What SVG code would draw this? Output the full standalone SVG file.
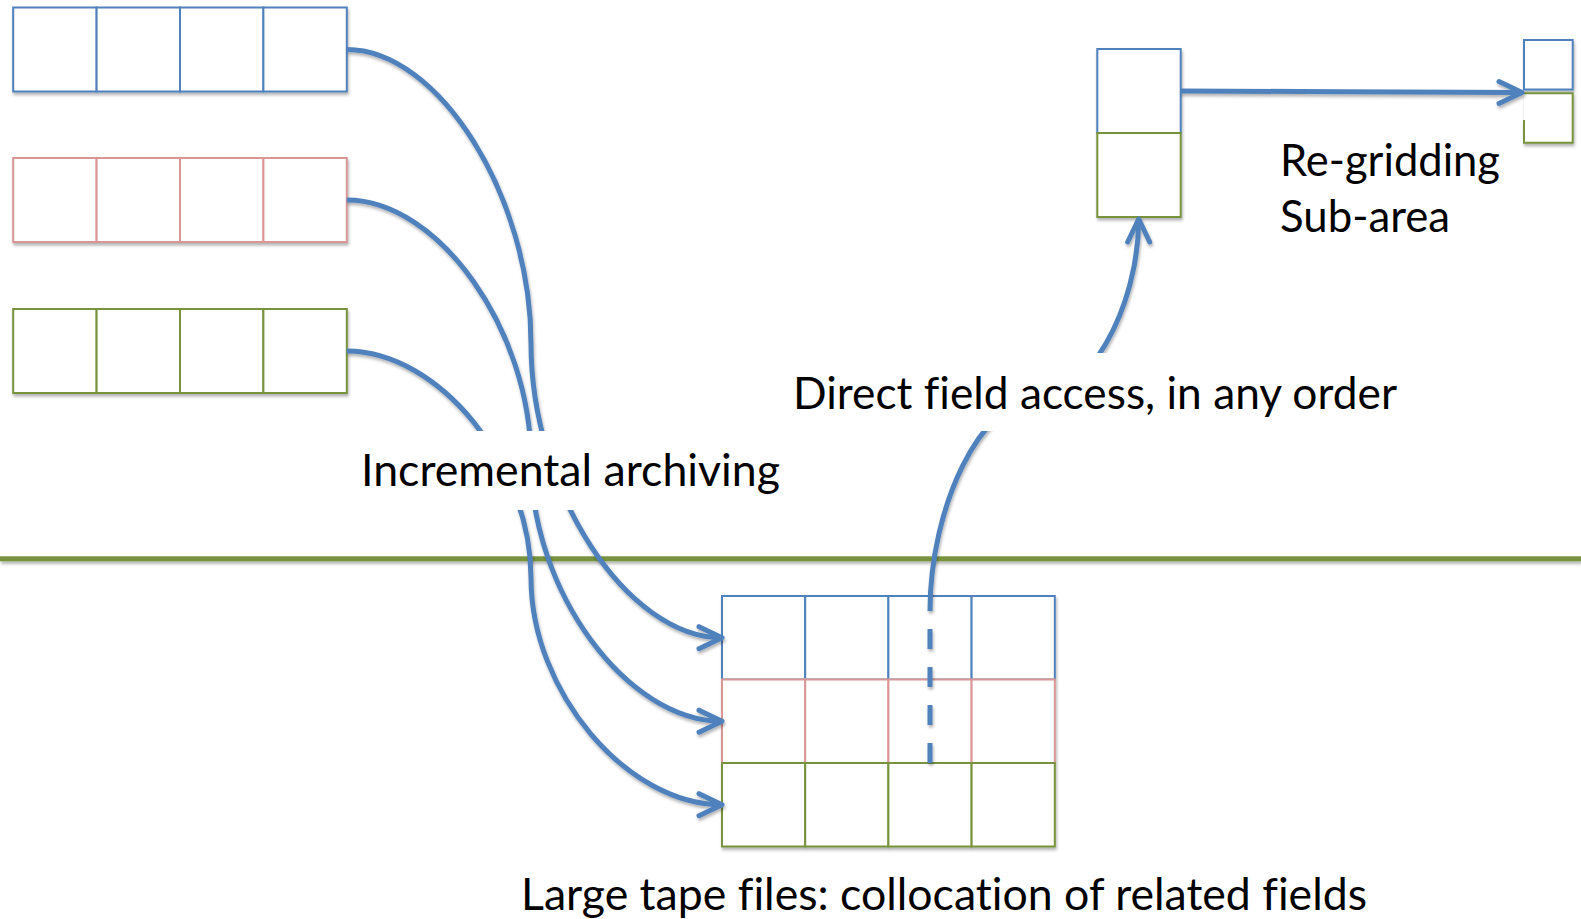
<svg xmlns="http://www.w3.org/2000/svg" width="1581" height="919" viewBox="0 0 1581 919">
  <defs>
    <filter id="sh" filterUnits="userSpaceOnUse" x="0" y="0" width="1581" height="919">
      <feDropShadow dx="1" dy="2.5" stdDeviation="1.5" flood-color="#000" flood-opacity="0.3"/>
    </filter>
    <marker id="arr" markerUnits="userSpaceOnUse" orient="auto" markerWidth="40" markerHeight="40" refX="0" refY="0" viewBox="-30 -20 40 40" overflow="visible">
      <path d="M-23,-11 L0,0 L-23,11" fill="none" stroke="#4F81BD" stroke-width="5" stroke-linecap="round" stroke-linejoin="round"/>
    </marker>
    <style>
      .cell { fill: #FFFFFF; stroke-width: 2; }
      .b { stroke: #4F81BD; }
      .p { stroke: #D99694; }
      .g { stroke: #77933C; }
      .conn { fill: none; stroke: #4F81BD; stroke-width: 5; }
      .lbl { font-family: Lato, "Open Sans", "Liberation Sans", sans-serif; font-size: 44px; fill: #000000; font-variant-ligatures: none; }
      .bg { fill: #FFFFFF; }
    </style>
  </defs>

  <rect x="0" y="0" width="1581" height="919" fill="#FFFFFF"/>

  <g id="separator" filter="url(#sh)">
    <rect x="0" y="556.3" width="1581" height="5" fill="#77933C"/>
  </g>

  <g id="row-blue" filter="url(#sh)">
    <rect class="cell b" x="13.2" y="7.5" width="83.4" height="84"/>
    <rect class="cell b" x="96.6" y="7.5" width="83.4" height="84"/>
    <rect class="cell b" x="180" y="7.5" width="83.4" height="84"/>
    <rect class="cell b" x="263.4" y="7.5" width="83.4" height="84"/>
  </g>
  <g id="row-pink" filter="url(#sh)">
    <rect class="cell p" x="13.2" y="158" width="83.4" height="84"/>
    <rect class="cell p" x="96.6" y="158" width="83.4" height="84"/>
    <rect class="cell p" x="180" y="158" width="83.4" height="84"/>
    <rect class="cell p" x="263.4" y="158" width="83.4" height="84"/>
  </g>
  <g id="row-green" filter="url(#sh)">
    <rect class="cell g" x="13.2" y="309" width="83.4" height="84"/>
    <rect class="cell g" x="96.6" y="309" width="83.4" height="84"/>
    <rect class="cell g" x="180" y="309" width="83.4" height="84"/>
    <rect class="cell g" x="263.4" y="309" width="83.4" height="84"/>
  </g>

  <g id="tape-grid" filter="url(#sh)">
    <rect class="cell b" x="722" y="596" width="83.2" height="83.5"/>
    <rect class="cell b" x="805.2" y="596" width="83.2" height="83.5"/>
    <rect class="cell b" x="888.4" y="596" width="83.2" height="83.5"/>
    <rect class="cell b" x="971.6" y="596" width="83.2" height="83.5"/>
    <rect class="cell p" x="722" y="679.5" width="83.2" height="83.5"/>
    <rect class="cell p" x="805.2" y="679.5" width="83.2" height="83.5"/>
    <rect class="cell p" x="888.4" y="679.5" width="83.2" height="83.5"/>
    <rect class="cell p" x="971.6" y="679.5" width="83.2" height="83.5"/>
    <rect class="cell g" x="722" y="763" width="83.2" height="83.5"/>
    <rect class="cell g" x="805.2" y="763" width="83.2" height="83.5"/>
    <rect class="cell g" x="888.4" y="763" width="83.2" height="83.5"/>
    <rect class="cell g" x="971.6" y="763" width="83.2" height="83.5"/>
  </g>

  <g id="field-column" filter="url(#sh)">
    <rect class="cell b" x="1097.3" y="49" width="83.4" height="84"/>
    <rect class="cell g" x="1097.3" y="133" width="83.4" height="84"/>
  </g>

  <g id="subarea" filter="url(#sh)">
    <rect class="cell b" x="1524" y="40" width="48.7" height="49.5"/>
    <path class="cell g" d="M1524,120 L1524,142.7 L1572.7,142.7 L1572.7,93.3 L1524,93.3"/>
  </g>

  <g id="connectors" filter="url(#sh)">
    <path class="conn" marker-end="url(#arr)" d="M346.8,49.5 C438.9,49.5 531,196.5 531,343.6 C531,490.7 626.5,637.7 722,637.7"/>
    <path class="conn" marker-end="url(#arr)" d="M346.8,200 C438.9,200 531,330.3 531,460.6 C531,590.9 626.5,721.2 722,721.2"/>
    <path class="conn" marker-end="url(#arr)" d="M346.8,351 C438.9,351 531,464.4 531,577.9 C531,691.3 626.5,804.7 722,804.7"/>
    <path class="conn" stroke-dasharray="20 18" d="M930,763 L930,611"/>
    <path class="conn" marker-end="url(#arr)" d="M930,611 C930,505.5 982.2,400 1034.4,400 C1086.5,400 1138.7,309.3 1138.7,219"/>
    <path class="conn" marker-end="url(#arr)" d="M1180.7,91 C1300,91 1400,92.5 1522,92.5"/>
  </g>

  <g id="label-incremental">
    <rect class="bg" x="352" y="431" width="438" height="79"/>
    <text class="lbl" x="361" y="486" textLength="419" lengthAdjust="spacingAndGlyphs">Incremental archiving</text>
  </g>
  <g id="label-direct">
    <rect class="bg" x="783" y="353" width="622" height="78"/>
    <text class="lbl" x="793" y="409" textLength="604" lengthAdjust="spacingAndGlyphs">Direct field access, in any order</text>
  </g>
  <g id="label-regridding">
    <text class="lbl" x="1280" y="176" textLength="220" lengthAdjust="spacingAndGlyphs">Re-gridding</text>
    <text class="lbl" x="1280" y="232" textLength="170" lengthAdjust="spacingAndGlyphs">Sub-area</text>
  </g>
  <g id="label-tape">
    <text class="lbl" x="521" y="910" textLength="846" lengthAdjust="spacingAndGlyphs">Large tape files: collocation of related fields</text>
  </g>
</svg>
